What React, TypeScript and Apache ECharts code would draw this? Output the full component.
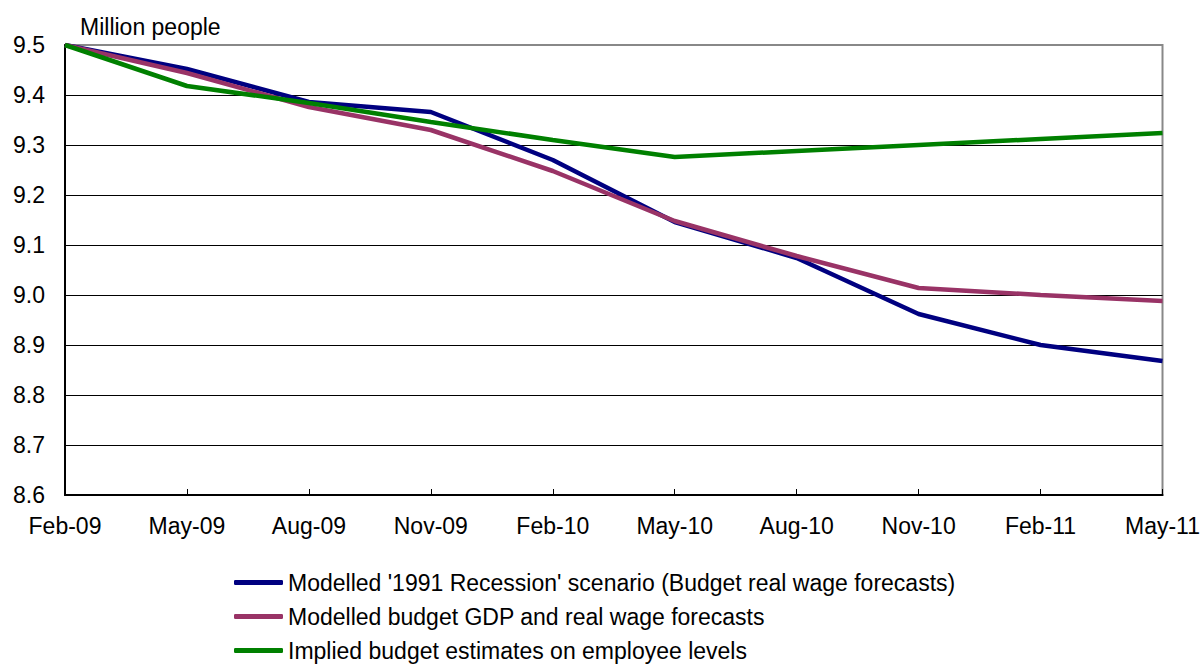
import React, { useEffect, useRef } from "react";
import * as echarts from "echarts";

const categories = ["Feb-09", "May-09", "Aug-09", "Nov-09", "Feb-10", "May-10", "Aug-10", "Nov-10", "Feb-11", "May-11"];
const recession1991 = [9.5, 9.452, 9.386, 9.366, 9.27, 9.146, 9.074, 8.962, 8.9, 8.868];
const budgetGdp = [9.5, 9.444, 9.376, 9.33, 9.248, 9.148, 9.078, 9.014, 9.0, 8.988];
const impliedBudget = [9.5, 9.418, 9.384, 9.346, 9.31, 9.276, 9.288, 9.3, 9.312, 9.324];
const seriesNames = [
  "Modelled '1991 Recession' scenario (Budget real wage forecasts)",
  "Modelled budget GDP and real wage forecasts",
  "Implied budget estimates on employee levels",
];
const colors = ["#000080", "#993366", "#008000"];

const FONT = "'Liberation Sans', Arial, sans-serif";

export default function App() {
  const ref = useRef<HTMLDivElement>(null);
  useEffect(() => {
    if (!ref.current) return;
    const chart = echarts.init(ref.current, null, { renderer: "svg" });
    const data = [recession1991, budgetGdp, impliedBudget];
    chart.setOption({
      animation: false,
      backgroundColor: "#fff",
      textStyle: { fontFamily: FONT },
      grid: { left: 65, right: 38, top: 45, bottom: 169, show: true, borderColor: "#888", borderWidth: 2 },
      graphic: [
        { type: "text", left: 80, top: 15, style: { text: "Million people", font: `23px ${FONT}`, fill: "#000" } },
      ],
      legend: {
        orient: "vertical",
        left: 229,
        top: 566,
        height: 100,
        icon: "roundRect",
        itemWidth: 49,
        itemHeight: 5,
        itemGap: 11,
        textStyle: { fontSize: 23, color: "#000", fontFamily: FONT },
        data: seriesNames.map((name, i) => ({ name, itemStyle: { color: colors[i] } })),
      },
      xAxis: {
        type: "category",
        data: categories,
        boundaryGap: false,
        axisLine: { lineStyle: { color: "#000", width: 2 } },
        axisTick: { inside: true, length: 6, lineStyle: { color: "#000" } },
        axisLabel: { fontSize: 23, color: "#000", margin: 19, fontFamily: FONT, showMaxLabel: true, showMinLabel: true, interval: 0 },
        splitLine: { show: false },
      },
      yAxis: {
        type: "value",
        min: 8.6,
        max: 9.5,
        interval: 0.1,
        axisLine: { show: true, lineStyle: { color: "#000", width: 2 } },
        axisTick: { show: false },
        axisLabel: { fontSize: 23, color: "#000", margin: 20, fontFamily: FONT, formatter: (v: number) => v.toFixed(1) },
        splitLine: {
          show: true,
          lineStyle: { color: ["#000", "#000", "#000", "#000", "#000", "#000", "#000", "#000", "#000", "#888"], width: 1 },
        },
      },
      series: seriesNames.map((name, i) => ({
        name,
        type: "line",
        data: data[i],
        symbol: "none",
        lineStyle: { color: colors[i], width: 4.5 },
        itemStyle: { color: colors[i] },
      })),
    });
    return () => chart.dispose();
  }, []);
  return <div ref={ref} style={{ width: 1203, height: 664, position: "absolute", left: 0, top: 0 }} />;
}
